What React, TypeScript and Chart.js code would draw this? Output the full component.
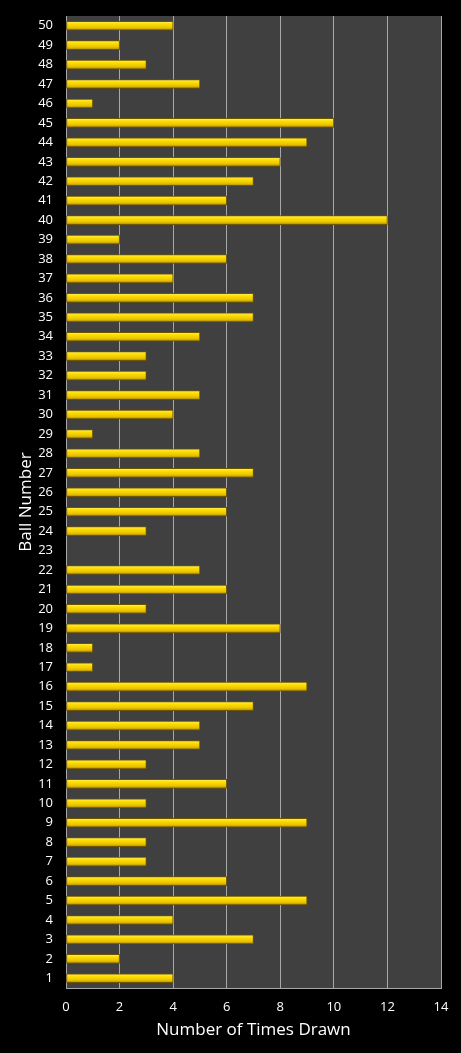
import { useEffect, useRef } from 'react';
import { Chart, registerables } from 'chart.js';

Chart.register(...registerables);

const balls = Array.from({ length: 50 }, (_, i) => String(i + 1));
// times drawn, ball 1 .. ball 50
const timesDrawn = [
  4, 2, 7, 4, 9, 6, 3, 3, 9, 3,
  6, 3, 5, 5, 7, 9, 1, 1, 8, 3,
  6, 5, 0, 3, 6, 6, 7, 5, 1, 4,
  5, 3, 3, 5, 7, 7, 4, 6, 2, 12,
  6, 7, 8, 9, 10, 1, 5, 3, 2, 4,
];
const xTicks = [0, 2, 4, 6, 8, 10, 12, 14];

const FONT = '"Open Sans", "DejaVu Sans", sans-serif';

const plotBg = {
  id: 'plotBg',
  beforeDraw(chart: Chart) {
    const { ctx, chartArea } = chart;
    ctx.save();
    ctx.fillStyle = '#404040';
    ctx.fillRect(chartArea.left, chartArea.top, chartArea.right - chartArea.left, chartArea.bottom - chartArea.top);
    ctx.restore();
  },
};

export default function App() {
  const canvasRef = useRef<HTMLCanvasElement>(null);
  const chartRef = useRef<Chart | null>(null);

  useEffect(() => {
    if (!canvasRef.current) return;
    chartRef.current?.destroy();

    chartRef.current = new Chart(canvasRef.current, {
      type: 'bar',
      data: {
        labels: balls,
        datasets: [
          {
            label: 'Number of Times Drawn',
            data: timesDrawn,
            backgroundColor: (c: any) => {
              const chart = c.chart;
              const ys = chart.scales?.y;
              const yc = ys ? ys.getPixelForValue(c.dataIndex) : NaN;
              if (!Number.isFinite(yc)) return '#f2cf00';
              const g = chart.ctx.createLinearGradient(0, yc - 5, 0, yc + 5);
              g.addColorStop(0, '#fff27a');
              g.addColorStop(0.3, '#ffe000');
              g.addColorStop(0.7, '#e8c200');
              g.addColorStop(1, '#9a7800');
              return g;
            },
            borderColor: '#6e5500',
            borderWidth: 1,
            borderSkipped: false,
            barThickness: 9,
          },
        ],
      },
      options: {
        indexAxis: 'y',
        animation: false,
        responsive: false,
        layout: { padding: { top: 16, right: 20, left: 0, bottom: 0 } },
        plugins: {
          legend: { display: false },
          tooltip: { enabled: false },
        },
        scales: {
          x: {
            min: 0,
            max: 14,
            afterBuildTicks: (s: any) => {
              s.ticks = xTicks.map((v) => ({ value: v }));
            },
            afterFit: (s: any) => {
              s.height = 65;
            },
            grid: { color: '#a8a8a8', lineWidth: 1, drawTicks: false },
            border: { color: '#a8a8a8' },
            ticks: { color: '#ffffff', font: { family: FONT, size: 13 }, padding: 11 },
            title: {
              display: true,
              text: 'Number of Times Drawn',
              color: '#ffffff',
              font: { family: FONT, size: 17 },
              padding: { top: 0, bottom: 13 },
            },
          },
          y: {
            reverse: true,
            afterFit: (s: any) => {
              s.width = 66;
              s.paddingTop = 0;
              s.paddingBottom = 0;
            },
            grid: { display: false, drawTicks: false },
            border: { color: '#a8a8a8' },
            ticks: { color: '#ffffff', font: { family: FONT, size: 13 }, padding: 13, autoSkip: false },
            title: {
              display: true,
              text: 'Ball Number',
              color: '#ffffff',
              font: { family: FONT, size: 17 },
              padding: { top: 16, bottom: 0 },
            },
          },
        },
      },
      plugins: [plotBg],
    });

    return () => {
      chartRef.current?.destroy();
      chartRef.current = null;
    };
  }, []);

  return (
    <div style={{ position: 'fixed', left: 0, top: 0, width: 461, height: 1053, background: '#000' }}>
      <canvas ref={canvasRef} width={461} height={1053} style={{ width: 461, height: 1053 }} />
    </div>
  );
}
